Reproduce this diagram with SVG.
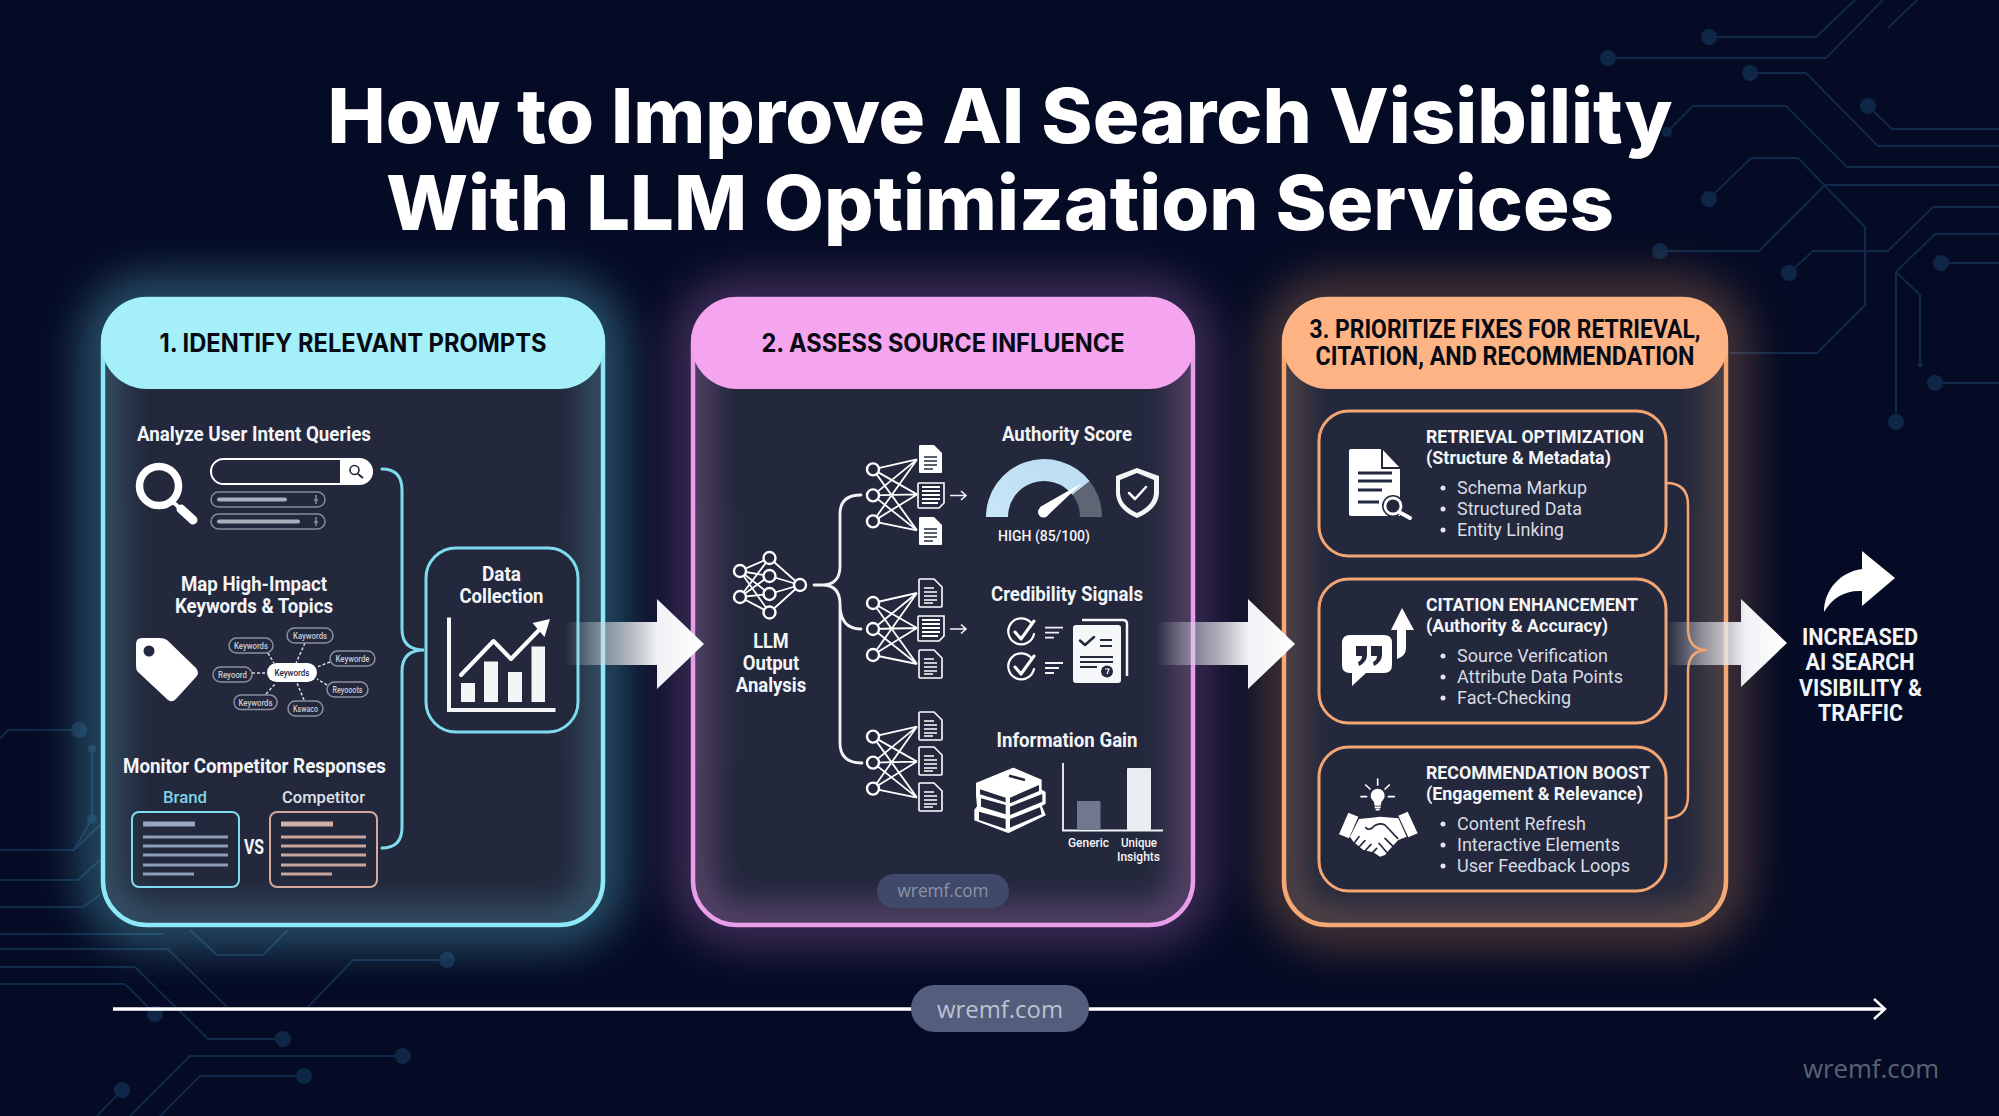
<svg xmlns="http://www.w3.org/2000/svg" width="1999" height="1116" viewBox="0 0 1999 1116">
<style>
text{font-family:"Roboto","Liberation Sans",sans-serif;fill:#f3f5f8}
.title{font-family:"Inter","Liberation Sans",sans-serif;font-weight:800;font-size:76px;fill:#fff;text-anchor:middle}
.hd{font-family:"Inter","Liberation Sans",sans-serif;font-weight:700;font-size:25px;fill:#070a14;text-anchor:middle}
.hd3{font-weight:700;font-size:25px;fill:#070a14;text-anchor:middle}
.sec{font-weight:700;font-size:20px}
.m{text-anchor:middle}
.bh{font-weight:700;font-size:19px}
.bl{font-weight:400;font-size:19px;fill:#d9dce3}
.kw{font-size:9px;text-anchor:middle;font-weight:500;fill:#c8ccd6}
.wm{font-family:"Open Sans","Liberation Sans",sans-serif}
.cir{fill:none;stroke:#10284a;stroke-width:2}
.dot{fill:#0f2747}
.sw{fill:none;stroke:#fff;stroke-linecap:round;stroke-linejoin:round}
.dk{fill:none;stroke:#23283c;stroke-linecap:round;stroke-linejoin:round}
.pill{fill:none;stroke:#868c9d;stroke-width:1.5}
.bar{stroke:#a9afbc;stroke-width:4;stroke-linecap:round}
.kb{fill:#23283c;stroke:#8a90a0;stroke-width:1.5}
.kl{stroke:#d8dae0;stroke-width:1.5;stroke-dasharray:3 2}
.net{fill:#23283c;stroke:#fff;stroke-width:2.4}
.nl{stroke:#fff;stroke-width:1.8}
.cy{fill:none;stroke:#7fdcef;stroke-width:3;stroke-linecap:round}
.wh{fill:none;stroke:#f2f4f7;stroke-width:2.8;stroke-linecap:round}
.or{fill:none;stroke:#f4a672;stroke-width:2.5;stroke-linecap:round}
.sub{fill:#23283c;stroke:#f4a672;stroke-width:3}
.arr{fill:url(#ag)}
</style>
<defs>
<filter id="b20" x="-30%" y="-30%" width="160%" height="160%"><feGaussianBlur stdDeviation="24"/></filter>
<filter id="b10" x="-30%" y="-30%" width="160%" height="160%"><feGaussianBlur stdDeviation="18"/></filter>
<linearGradient id="ag" x1="0" x2="1" y1="0" y2="0"><stop offset="0" stop-color="#d8dae2" stop-opacity="0"/><stop offset=".3" stop-color="#d8dae2" stop-opacity=".55"/><stop offset=".66" stop-color="#f1f2f5"/><stop offset="1" stop-color="#fff"/></linearGradient>
<linearGradient id="gg" x1="0" x2="1" y1="1" y2="0"><stop offset="0" stop-color="#c9e6f8"/><stop offset="1" stop-color="#bcdcf2"/></linearGradient>
<clipPath id="c1"><rect x="103" y="299" width="500" height="626" rx="44"/></clipPath>
<clipPath id="c2"><rect x="693" y="299" width="500" height="626" rx="44"/></clipPath>
<clipPath id="c3"><rect x="1284" y="299" width="442" height="626" rx="44"/></clipPath>
<g id="docF"><path d="M1,0H15L23,8V27a1,1 0 0 1-1,1H1a1,1 0 0 1-1-1V1a1,1 0 0 1 1-1Z" fill="#fff"/><path d="M5,12H18M5,16H18M5,20H18M5,24H14" stroke="#23283c" stroke-width="1.6"/></g>
<g id="docO"><path d="M1,0H15L23,8V27a1,1 0 0 1-1,1H1a1,1 0 0 1-1-1V1a1,1 0 0 1 1-1Z" fill="#23283c" stroke="#fff" stroke-width="1.6"/><path d="M5,9H15M5,13H18M5,17H18M5,21H18M5,24H14" stroke="#fff" stroke-width="1.4"/></g>
<g id="docL"><path d="M1,0H26V20L21,25H1a1,1 0 0 1-1-1V1a1,1 0 0 1 1-1Z" fill="#23283c" stroke="#fff" stroke-width="1.6"/><path d="M4,4H22M4,8H22M4,12H22M4,16H22M4,20H20" stroke="#fff" stroke-width="1.8"/></g>
<g id="net">
<path class="nl" d="M873,0L917,-10M873,0L917,25M873,0L917,61M873,26L917,-10M873,26L917,25M873,26L917,61M873,52L917,-10M873,52L917,25M873,52L917,61"/>
<circle class="net" cx="873" cy="0" r="6"/><circle class="net" cx="873" cy="26" r="6"/><circle class="net" cx="873" cy="52" r="6"/>
</g>
</defs>
<rect width="1999" height="1116" fill="#050b24"/>
<g id="circuit-background">
<path class="cir" d="M1709,37H1816L1855,0M1608,58H1826L1883,0M1888,28L1917,0M1750,73H1806L1878,146H1999M1868,106L1892,129H1999M1667,132L1693,106H1786L1847,167H1999M1709,199L1751,158H1798L1865,227V305L1817,353H1730M1660,251H1759L1825,185H1999M1789,273L1813,251H1888L1933,207H1999M1896,422V272L1935,234H1999M1896,272L1920,295V365M1941,263H1999M1935,383H1999"/>
<g class="dot"><circle cx="1709" cy="37" r="8"/><circle cx="1608" cy="58" r="8"/><circle cx="1750" cy="73" r="8"/><circle cx="1868" cy="106" r="8"/><circle cx="1667" cy="132" r="5"/><circle cx="1709" cy="199" r="8"/><circle cx="1660" cy="251" r="8"/><circle cx="1789" cy="273" r="8"/><circle cx="1896" cy="422" r="8"/><circle cx="1920" cy="365" r="2.5"/><circle cx="1941" cy="263" r="8"/><circle cx="1935" cy="383" r="8"/></g>
<path class="cir" d="M0,739L8,730H79M92,749V819L74,850H0M100,825L74,850M0,880H78L100,860M0,907H83L100,895M0,934H163M0,949H168L227,1007M190,930L217,955H263L288,930M0,967H135L208,1039H283M0,984H125L155,1014M308,1007L353,960H447M130,1116L190,1056H403M160,1116L200,1076H304M97,1116L122,1090"/>
<g class="dot"><circle cx="79" cy="730" r="8"/><circle cx="92" cy="749" r="4"/><circle cx="92" cy="819" r="5"/><circle cx="283" cy="1039" r="8"/><circle cx="155" cy="1014" r="8"/><circle cx="447" cy="960" r="8"/><circle cx="403" cy="1056" r="8"/><circle cx="304" cy="1076" r="8"/><circle cx="122" cy="1090" r="8"/></g>
</g>
<g id="title">
<text class="title" x="1000" y="143" textLength="1345" lengthAdjust="spacingAndGlyphs">How to Improve AI Search Visibility</text>
<text class="title" x="1000" y="230" textLength="1228" lengthAdjust="spacingAndGlyphs">With LLM Optimization Services</text>
</g>

<g id="panel-1">
<rect x="103" y="299" width="500" height="626" rx="44" fill="none" stroke="#6fdcf0" stroke-width="26" opacity=".6" filter="url(#b20)"/>
<rect x="103" y="299" width="500" height="626" rx="44" fill="#23283c"/>
<g clip-path="url(#c1)"><rect x="103" y="299" width="500" height="626" rx="44" fill="none" stroke="#6fdcf0" stroke-width="26" opacity=".34" filter="url(#b10)"/></g>
<rect x="103" y="299" width="500" height="626" rx="44" fill="none" stroke="#8de8f7" stroke-width="4.5"/>
<rect x="101" y="297" width="504" height="92" rx="46" fill="#a5eff9"/>
<text class="hd" x="353" y="352" textLength="387" lengthAdjust="spacingAndGlyphs">1. IDENTIFY RELEVANT PROMPTS</text>
<g id="analyze-queries">
<text class="sec" x="137" y="441" textLength="234" lengthAdjust="spacingAndGlyphs">Analyze User Intent Queries</text>
<circle cx="159" cy="486" r="19.5" fill="none" stroke="#fff" stroke-width="7.5"/>
<path class="sw" d="M174,503L181,509" stroke-width="4"/><path class="sw" d="M181,509L193,520" stroke-width="9"/>
<rect x="211" y="459" width="161" height="25" rx="12.5" fill="#23283c" stroke="#fff" stroke-width="2"/>
<path d="M340,459H360a12.5,12.5 0 0 1 0,25H340Z" fill="#fff"/>
<circle cx="354.5" cy="470" r="4.5" fill="none" stroke="#23283c" stroke-width="1.6"/><path d="M358,474L363,478" stroke="#23283c" stroke-width="2"/>
<rect class="pill" x="211" y="492" width="114" height="15" rx="7.5"/><path class="bar" d="M219,499.5H285"/><path d="M316,495V504M314,500h4" stroke="#8a90a0" stroke-width="1.4"/>
<rect class="pill" x="211" y="514" width="114" height="15" rx="7.5"/><path class="bar" d="M219,521.5H298"/><path d="M316,517V526M314,522h4" stroke="#8a90a0" stroke-width="1.4"/>
</g>
<g id="map-keywords">
<text class="sec m" x="254" y="590.5" textLength="146" lengthAdjust="spacingAndGlyphs">Map High-Impact</text>
<text class="sec m" x="254" y="612.5" textLength="158" lengthAdjust="spacingAndGlyphs">Keywords &amp; Topics</text>
<path d="M142,638H160Q164,638 167,640L196,668Q200,673 196,677L176,699Q172,703 168,700L138,672Q136,670 136,666V644Q136,638 142,638Z" fill="#fff"/><circle cx="149" cy="651" r="5.5" fill="#23283c"/>
<path class="kl" d="M268,653L274,663M305,643L296,663M330,662L317,667M327,685L317,679M304,700L297,683M266,694L276,683M252,673H267"/>
<rect class="kb" x="229" y="638" width="44" height="15" rx="7.5"/><text class="kw" x="251" y="649" textLength="34" lengthAdjust="spacingAndGlyphs">Keywords</text>
<rect class="kb" x="287" y="628" width="46" height="15" rx="7.5"/><text class="kw" x="310" y="639" textLength="34" lengthAdjust="spacingAndGlyphs">Kaywords</text>
<rect class="kb" x="330" y="651" width="45" height="15" rx="7.5"/><text class="kw" x="352.500" y="662" textLength="34" lengthAdjust="spacingAndGlyphs">Keyworde</text>
<rect class="kb" x="327" y="682" width="41" height="15" rx="7.5"/><text class="kw" x="347.500" y="693" textLength="30" lengthAdjust="spacingAndGlyphs">Reyooots</text>
<rect class="kb" x="288" y="701" width="35" height="15" rx="7.5"/><text class="kw" x="305.500" y="712" textLength="25" lengthAdjust="spacingAndGlyphs">Kswaco</text>
<rect class="kb" x="234" y="695" width="43" height="14.500" rx="7"/><text class="kw" x="255.500" y="706" textLength="34" lengthAdjust="spacingAndGlyphs">Keywords</text>
<rect class="kb" x="213" y="667" width="39" height="15" rx="7.500"/><text class="kw" x="232.500" y="678" textLength="29" lengthAdjust="spacingAndGlyphs">Reyoord</text>
<rect x="267" y="663" width="50" height="19" rx="9.500" fill="#fff"/><text class="kw" x="292" y="676" textLength="35" lengthAdjust="spacingAndGlyphs" style="fill:#23283c">Keywords</text>
</g>
<g id="monitor-competitors">
<text class="sec" x="123" y="773" textLength="263" lengthAdjust="spacingAndGlyphs">Monitor Competitor Responses</text>
<text x="185" y="803" class="m" font-size="17" font-weight="500" style="fill:#7fd3e6" textLength="44" lengthAdjust="spacingAndGlyphs">Brand</text>
<text x="323.500" y="803" class="m" font-size="17" font-weight="500" style="fill:#dfe2e8" textLength="83" lengthAdjust="spacingAndGlyphs">Competitor</text>
<rect x="132" y="812" width="107" height="75" rx="7" fill="none" stroke="#7fdcef" stroke-width="2"/>
<path d="M143,824H195" stroke="#98a7bf" stroke-width="5"/><path d="M143,837H228M143,846H228M143,855H228M143,865H228M143,874H194" stroke="#8e9db8" stroke-width="3"/>
<text x="254" y="854" class="m" font-size="20" font-weight="700" textLength="20" lengthAdjust="spacingAndGlyphs">VS</text>
<rect x="270" y="812" width="107" height="75" rx="7" fill="none" stroke="#d6a898" stroke-width="2"/>
<path d="M281,824H333" stroke="#d1ada4" stroke-width="5"/><path d="M281,837H366M281,846H366M281,855H366M281,865H366M281,874H332" stroke="#c9a59b" stroke-width="3"/>
</g>
</g>
<g id="data-collection">
<rect x="426" y="548" width="152" height="184" rx="30" fill="#23283c" stroke="#7fdcef" stroke-width="3"/>
<text class="sec m" x="501.500" y="580.500" textLength="39" lengthAdjust="spacingAndGlyphs">Data</text>
<text class="sec m" x="501.500" y="603" textLength="84" lengthAdjust="spacingAndGlyphs">Collection</text>
<path d="M449,617.500V710H555.500" fill="none" stroke="#f4f5f7" stroke-width="4"/>
<path d="M461,683h14v19h-14ZM484,661.500h14v40.500h-14ZM508,672h14v30h-14ZM531.500,646.500h13.500v55.500h-13.500Z" fill="#f4f5f7"/>
<path d="M461,675L493.500,641L511,659L540,629" class="sw" stroke-width="4"/>
<path d="M532.500,623L550,619L544.500,637Z" fill="#fff"/>
</g>

<g id="panel-2">
<rect x="693" y="299" width="500" height="626" rx="44" fill="none" stroke="#e58ee8" stroke-width="26" opacity=".45" filter="url(#b20)"/>
<rect x="693" y="299" width="500" height="626" rx="44" fill="#23283c"/>
<g clip-path="url(#c2)"><rect x="693" y="299" width="500" height="626" rx="44" fill="none" stroke="#e58ee8" stroke-width="26" opacity=".4" filter="url(#b10)"/></g>
<rect x="693" y="299" width="500" height="626" rx="44" fill="none" stroke="#e99ee9" stroke-width="4.5"/>
<rect x="691" y="297" width="504" height="92" rx="46" fill="#f5a4ee"/>
<text class="hd" x="943" y="352" textLength="363" lengthAdjust="spacingAndGlyphs">2. ASSESS SOURCE INFLUENCE</text>
<g id="llm-analysis">
<path class="nl" d="M740,571L769.500,558M740,571L769.500,576M740,571L769.500,594M740,571L769.500,612.500M740,597L769.500,558M740,597L769.500,576M740,597L769.500,594M740,597L769.500,612.500M769.500,558L800,585M769.500,576L800,585M769.500,594L800,585M769.500,612.500L800,585"/>
<circle class="net" cx="740" cy="571" r="6"/><circle class="net" cx="740" cy="597" r="6"/><circle class="net" cx="769.500" cy="558" r="6"/><circle class="net" cx="769.500" cy="576" r="6"/><circle class="net" cx="769.500" cy="594" r="6"/><circle class="net" cx="769.500" cy="612.500" r="6"/><circle class="net" cx="800" cy="585" r="6"/>
<text class="sec m" x="771" y="648" textLength="35.500" lengthAdjust="spacingAndGlyphs">LLM</text>
<text class="sec m" x="771" y="670" textLength="56.500" lengthAdjust="spacingAndGlyphs">Output</text>
<text class="sec m" x="771" y="691.500" textLength="70.500" lengthAdjust="spacingAndGlyphs">Analysis</text>
</g>
<g id="source-nets">
<use href="#net" y="469.400"/><use href="#net" y="603"/><use href="#net" y="736.600"/>
<use href="#docF" x="919" y="445"/><use href="#docL" x="918" y="483"/><use href="#docF" x="919" y="517"/>
<use href="#docO" x="919" y="579"/><use href="#docL" x="918" y="616"/><use href="#docO" x="919" y="650"/>
<use href="#docO" x="919" y="712"/><use href="#docO" x="919" y="747"/><use href="#docO" x="919" y="783"/>
<path d="M950,495.500H966M961,491L966,495.500L961,500M950,629H966M961,624.500L966,629L961,633.500" fill="none" stroke="#f2f4f7" stroke-width="1.6"/>
</g>
<g id="authority-score">
<text class="sec m" x="1067" y="441" textLength="130" lengthAdjust="spacingAndGlyphs">Authority Score</text>
<path d="M986,517A58,58 0 0 1 1089.700,481.300L1072.400,494.800A36,36 0 0 0 1008,517Z" fill="url(#gg)"/>
<path d="M1089.700,481.300A58,58 0 0 1 1102,517H1080A36,36 0 0 0 1072.400,494.800Z" fill="#5f6572"/>
<path d="M1082,483L1040,507L1047,516Z" fill="#fff"/><circle cx="1043.500" cy="512" r="5.500" fill="#fff"/>
<text x="1044" y="541" class="m" font-size="15.500" font-weight="500" textLength="92" lengthAdjust="spacingAndGlyphs">HIGH (85/100)</text>
<path d="M1137,468L1159,476V492C1159,505 1149,513 1137,518C1125,513 1116,505 1116,492V476Z" fill="#f4f5f7"/>
<path d="M1137,473L1154,480V492C1154,502 1146,509 1137,513C1128,509 1120,502 1120,492V480Z" fill="#23283c"/>
<path class="sw" d="M1129,493L1135,499L1146,487" stroke-width="2.5"/>
</g>
<g id="credibility-signals">
<text class="sec m" x="1067" y="601" textLength="152" lengthAdjust="spacingAndGlyphs">Credibility Signals</text>
<path d="M1032,624A13,13 0 1 0 1034,634" class="sw" stroke-width="2.200"/><path class="sw" d="M1015,632L1021,639L1034,621" stroke-width="3"/>
<path d="M1032,659A13,13 0 1 0 1034,669" class="sw" stroke-width="2.200"/><path class="sw" d="M1015,667L1021,674L1034,656" stroke-width="3"/>
<path d="M1045,627.600H1063M1045,632.700H1059M1045,637.700H1054M1045,663H1063M1045,668H1059M1045,673H1054" stroke="#f2f4f7" stroke-width="1.800"/>
<path d="M1082,620H1123Q1127,620 1127,624V676" fill="none" stroke="#f4f5f7" stroke-width="2.500"/>
<rect x="1073" y="625" width="48" height="58" rx="3" fill="#f6f7f9"/>
<path class="dk" d="M1080,640.500L1085,645L1094,637" stroke-width="2.500"/>
<path d="M1100,640H1112M1100,646H1112M1080,657H1113M1080,662H1113M1080,667H1097" stroke="#23283c" stroke-width="1.800"/>
<circle cx="1107" cy="671.500" r="6" fill="#23283c"/><path d="M1105,669H1109L1107,674" fill="none" stroke="#fff" stroke-width="1.200"/>
</g>
<g id="information-gain">
<text class="sec m" x="1067" y="747" textLength="141" lengthAdjust="spacingAndGlyphs">Information Gain</text>
<g transform="translate(965,755) scale(.3333)">
<path d="M145,40L228,75V105L240,112V145L228,152L240,180L130,232L30,195V165L38,155L35,120V85Z" fill="#fff" stroke="#fff" stroke-width="4" stroke-linejoin="round"/>
<path d="M45,103L122,128V142L45,118ZM135,128L222,90V108L135,145ZM48,130L122,150V178L48,155ZM135,155L232,117V140L135,180ZM42,170L122,192V222L42,195ZM135,192L225,157L230,178L135,218Z" fill="#23283c"/>
<path d="M132,62L180,75" stroke="#23283c" stroke-width="8"/>
</g>
<path d="M1063,763V830.500H1163" fill="none" stroke="#f2f4f7" stroke-width="1.800"/>
<rect x="1077" y="801" width="23.500" height="29" rx="1" fill="#6f7890"/><rect x="1127" y="768" width="24" height="62" rx="1" fill="#e8eef2"/>
<text x="1088.500" y="847" class="m" font-size="12.500" font-weight="500" textLength="41" lengthAdjust="spacingAndGlyphs">Generic</text>
<text x="1139" y="847" class="m" font-size="12.500" font-weight="500" textLength="36" lengthAdjust="spacingAndGlyphs">Unique</text>
<text x="1138.500" y="861" class="m" font-size="12.500" font-weight="500" textLength="43" lengthAdjust="spacingAndGlyphs">Insights</text>
</g>
<g id="watermark-panel">
<rect x="877" y="874" width="132" height="34" rx="17" fill="#40496a"/>
<text class="wm m" x="943" y="897" font-size="18" style="fill:#8a93a8" textLength="91" lengthAdjust="spacingAndGlyphs">wremf.com</text>
</g>
</g>

<g id="panel-3">
<rect x="1284" y="299" width="442" height="626" rx="44" fill="none" stroke="#f4a26a" stroke-width="26" opacity=".5" filter="url(#b20)"/>
<rect x="1284" y="299" width="442" height="626" rx="44" fill="#23283c"/>
<g clip-path="url(#c3)"><rect x="1284" y="299" width="442" height="626" rx="44" fill="none" stroke="#f4a26a" stroke-width="26" opacity=".34" filter="url(#b10)"/></g>
<rect x="1284" y="299" width="442" height="626" rx="44" fill="none" stroke="#f4a874" stroke-width="4.5"/>
<rect x="1282" y="297" width="446" height="92" rx="46" fill="#fdb384"/>
<text class="hd3" x="1505" y="338" textLength="391" lengthAdjust="spacingAndGlyphs">3. PRIORITIZE FIXES FOR RETRIEVAL,</text>
<text class="hd3" x="1505" y="365" textLength="379" lengthAdjust="spacingAndGlyphs">CITATION, AND RECOMMENDATION</text>
<g id="retrieval-box">
<rect class="sub" x="1319" y="411" width="347" height="145" rx="30"/>
<path d="M1351,449H1382L1400,468V516H1351Q1349,516 1349,514V451Q1349,449 1351,449Z" fill="#fff"/>
<path d="M1382,449V468H1400" fill="none" stroke="#23283c" stroke-width="2"/>
<path d="M1358,473H1392M1358,481H1392M1358,490H1382M1358,502H1379" stroke="#23283c" stroke-width="3"/>
<circle cx="1393" cy="506" r="11" fill="#23283c"/><circle cx="1393" cy="506" r="8" fill="none" stroke="#fff" stroke-width="2.800"/>
<path class="sw" d="M1399,512L1410,518" stroke-width="4"/>
<text class="bh" x="1426" y="443" textLength="218" lengthAdjust="spacingAndGlyphs">RETRIEVAL OPTIMIZATION</text>
<text class="bh" x="1426" y="464" textLength="185" lengthAdjust="spacingAndGlyphs">(Structure &amp; Metadata)</text>
<circle cx="1443" cy="488" r="2.500" fill="#e3e5ea"/><circle cx="1443" cy="509" r="2.500" fill="#e3e5ea"/><circle cx="1443" cy="530" r="2.500" fill="#e3e5ea"/>
<text class="bl" x="1457" y="494" textLength="130" lengthAdjust="spacingAndGlyphs">Schema Markup</text>
<text class="bl" x="1457" y="515" textLength="125" lengthAdjust="spacingAndGlyphs">Structured Data</text>
<text class="bl" x="1457" y="536" textLength="107" lengthAdjust="spacingAndGlyphs">Entity Linking</text>
</g>
<g id="citation-box">
<rect class="sub" x="1319" y="579" width="347" height="144" rx="30"/>
<path d="M1350,635H1384Q1392,635 1392,643V665Q1392,673 1384,673H1366L1352,686V673H1350Q1342,673 1342,665V643Q1342,635 1350,635Z" fill="#fff"/>
<path d="M1356,646H1367V655Q1367,662 1359,666L1358,662Q1362,660 1362,656H1356ZM1371,646H1382V655Q1382,662 1374,666L1373,662Q1377,660 1377,656H1371Z" fill="#23283c"/>
<path d="M1402,608L1414,630H1406V648Q1406,656 1397,659V630H1391Z" fill="#fff"/>
<text class="bh" x="1426" y="611" textLength="212" lengthAdjust="spacingAndGlyphs">CITATION ENHANCEMENT</text>
<text class="bh" x="1426" y="632" textLength="182" lengthAdjust="spacingAndGlyphs">(Authority &amp; Accuracy)</text>
<circle cx="1443" cy="656" r="2.500" fill="#e3e5ea"/><circle cx="1443" cy="677" r="2.500" fill="#e3e5ea"/><circle cx="1443" cy="698" r="2.500" fill="#e3e5ea"/>
<text class="bl" x="1457" y="662" textLength="151" lengthAdjust="spacingAndGlyphs">Source Verification</text>
<text class="bl" x="1457" y="683" textLength="166" lengthAdjust="spacingAndGlyphs">Attribute Data Points</text>
<text class="bl" x="1457" y="704" textLength="114" lengthAdjust="spacingAndGlyphs">Fact-Checking</text>
</g>
<g id="recommendation-box">
<rect class="sub" x="1319" y="747" width="347" height="144" rx="30"/>
<g transform="translate(1335,775) scale(.3333)">
<circle cx="128" cy="62" r="21" fill="#fff"/><path d="M116,78L119,92H137L140,78Z" fill="#fff"/><path d="M119,97H137M122,104H134" stroke="#fff" stroke-width="5"/>
<path d="M128,12V30M92,30L105,42M163,30L150,42M78,65H95M160,65H178" stroke="#fff" stroke-width="5" stroke-linecap="round"/>
<path d="M40,113L70,125L42,190L12,178ZM190,122L218,110L248,175L220,187Z" fill="#fff"/>
<path d="M72,132L110,128L135,125L190,130L215,185L190,195L165,222L150,240L135,245L115,232L85,225L55,200L45,185Z" fill="#fff"/>
<path class="dk" d="M92,158Q104,170 118,152Q135,142 150,150L188,190M150,190L175,215M132,205L155,232M72,185L58,203M90,197L72,216M108,208L90,228M125,220L110,236" stroke-width="5"/>
</g>
<text class="bh" x="1426" y="779" textLength="224" lengthAdjust="spacingAndGlyphs">RECOMMENDATION BOOST</text>
<text class="bh" x="1426" y="800" textLength="217" lengthAdjust="spacingAndGlyphs">(Engagement &amp; Relevance)</text>
<circle cx="1443" cy="824" r="2.500" fill="#e3e5ea"/><circle cx="1443" cy="845" r="2.500" fill="#e3e5ea"/><circle cx="1443" cy="866" r="2.500" fill="#e3e5ea"/>
<text class="bl" x="1457" y="830" textLength="129" lengthAdjust="spacingAndGlyphs">Content Refresh</text>
<text class="bl" x="1457" y="851" textLength="163" lengthAdjust="spacingAndGlyphs">Interactive Elements</text>
<text class="bl" x="1457" y="872" textLength="173" lengthAdjust="spacingAndGlyphs">User Feedback Loops</text>
</g>
</g>

<g id="connectors">
<path class="arr" d="M565,622H657V599L704,644L657,689V665H565Z"/>
<path class="arr" d="M1157,622H1248V599L1295,644L1248,689V665H1157Z"/>
<path class="arr" d="M1666,622H1741V599L1787,643L1741,687V665H1666Z"/>
<path class="cy" d="M382,469Q402,469 402,490V629Q402,650 424,650Q402,650 402,671V827Q402,848 382,848"/>
<path class="wh" d="M814,585H822Q840,585 840,566V514Q840,495 861,495M822,585Q840,585 840,604Q840,629 861,629M840,604V743Q840,763 862,763"/>
<path class="or" d="M1666,483Q1688,483 1688,505V628Q1688,650 1707,650Q1688,650 1688,672V796Q1688,818 1666,818"/>
<path d="M113,1009H1883" stroke="#fff" stroke-width="3.500"/>
<path d="M1874,999L1885,1009L1874,1019" fill="none" stroke="#fff" stroke-width="2.500"/>
</g>
<g id="outcome">
<path d="M1824,612C1824,590 1840,572 1862,569V551L1895,578L1862,606V591C1845,590 1832,598 1824,612Z" fill="#fff"/>
<g class="m" font-size="23" font-weight="700">
<text class="m" x="1860" y="645" textLength="116" lengthAdjust="spacingAndGlyphs">INCREASED</text>
<text class="m" x="1860" y="670" textLength="109" lengthAdjust="spacingAndGlyphs">AI SEARCH</text>
<text class="m" x="1860.500" y="696" textLength="123" lengthAdjust="spacingAndGlyphs">VISIBILITY &amp;</text>
<text class="m" x="1860.500" y="721" textLength="85" lengthAdjust="spacingAndGlyphs">TRAFFIC</text>
</g>
</g>
<g id="watermarks">
<rect x="911" y="985" width="178" height="47" rx="23.500" fill="#525e7b"/>
<text class="wm m" x="1000" y="1018" font-size="24" style="fill:#bcc2cf" textLength="126" lengthAdjust="spacingAndGlyphs">wremf.com</text>
<text class="wm" x="1803" y="1078" font-size="26" style="fill:#5a6373" textLength="136" lengthAdjust="spacingAndGlyphs">wremf.com</text>
</g>
</svg>
